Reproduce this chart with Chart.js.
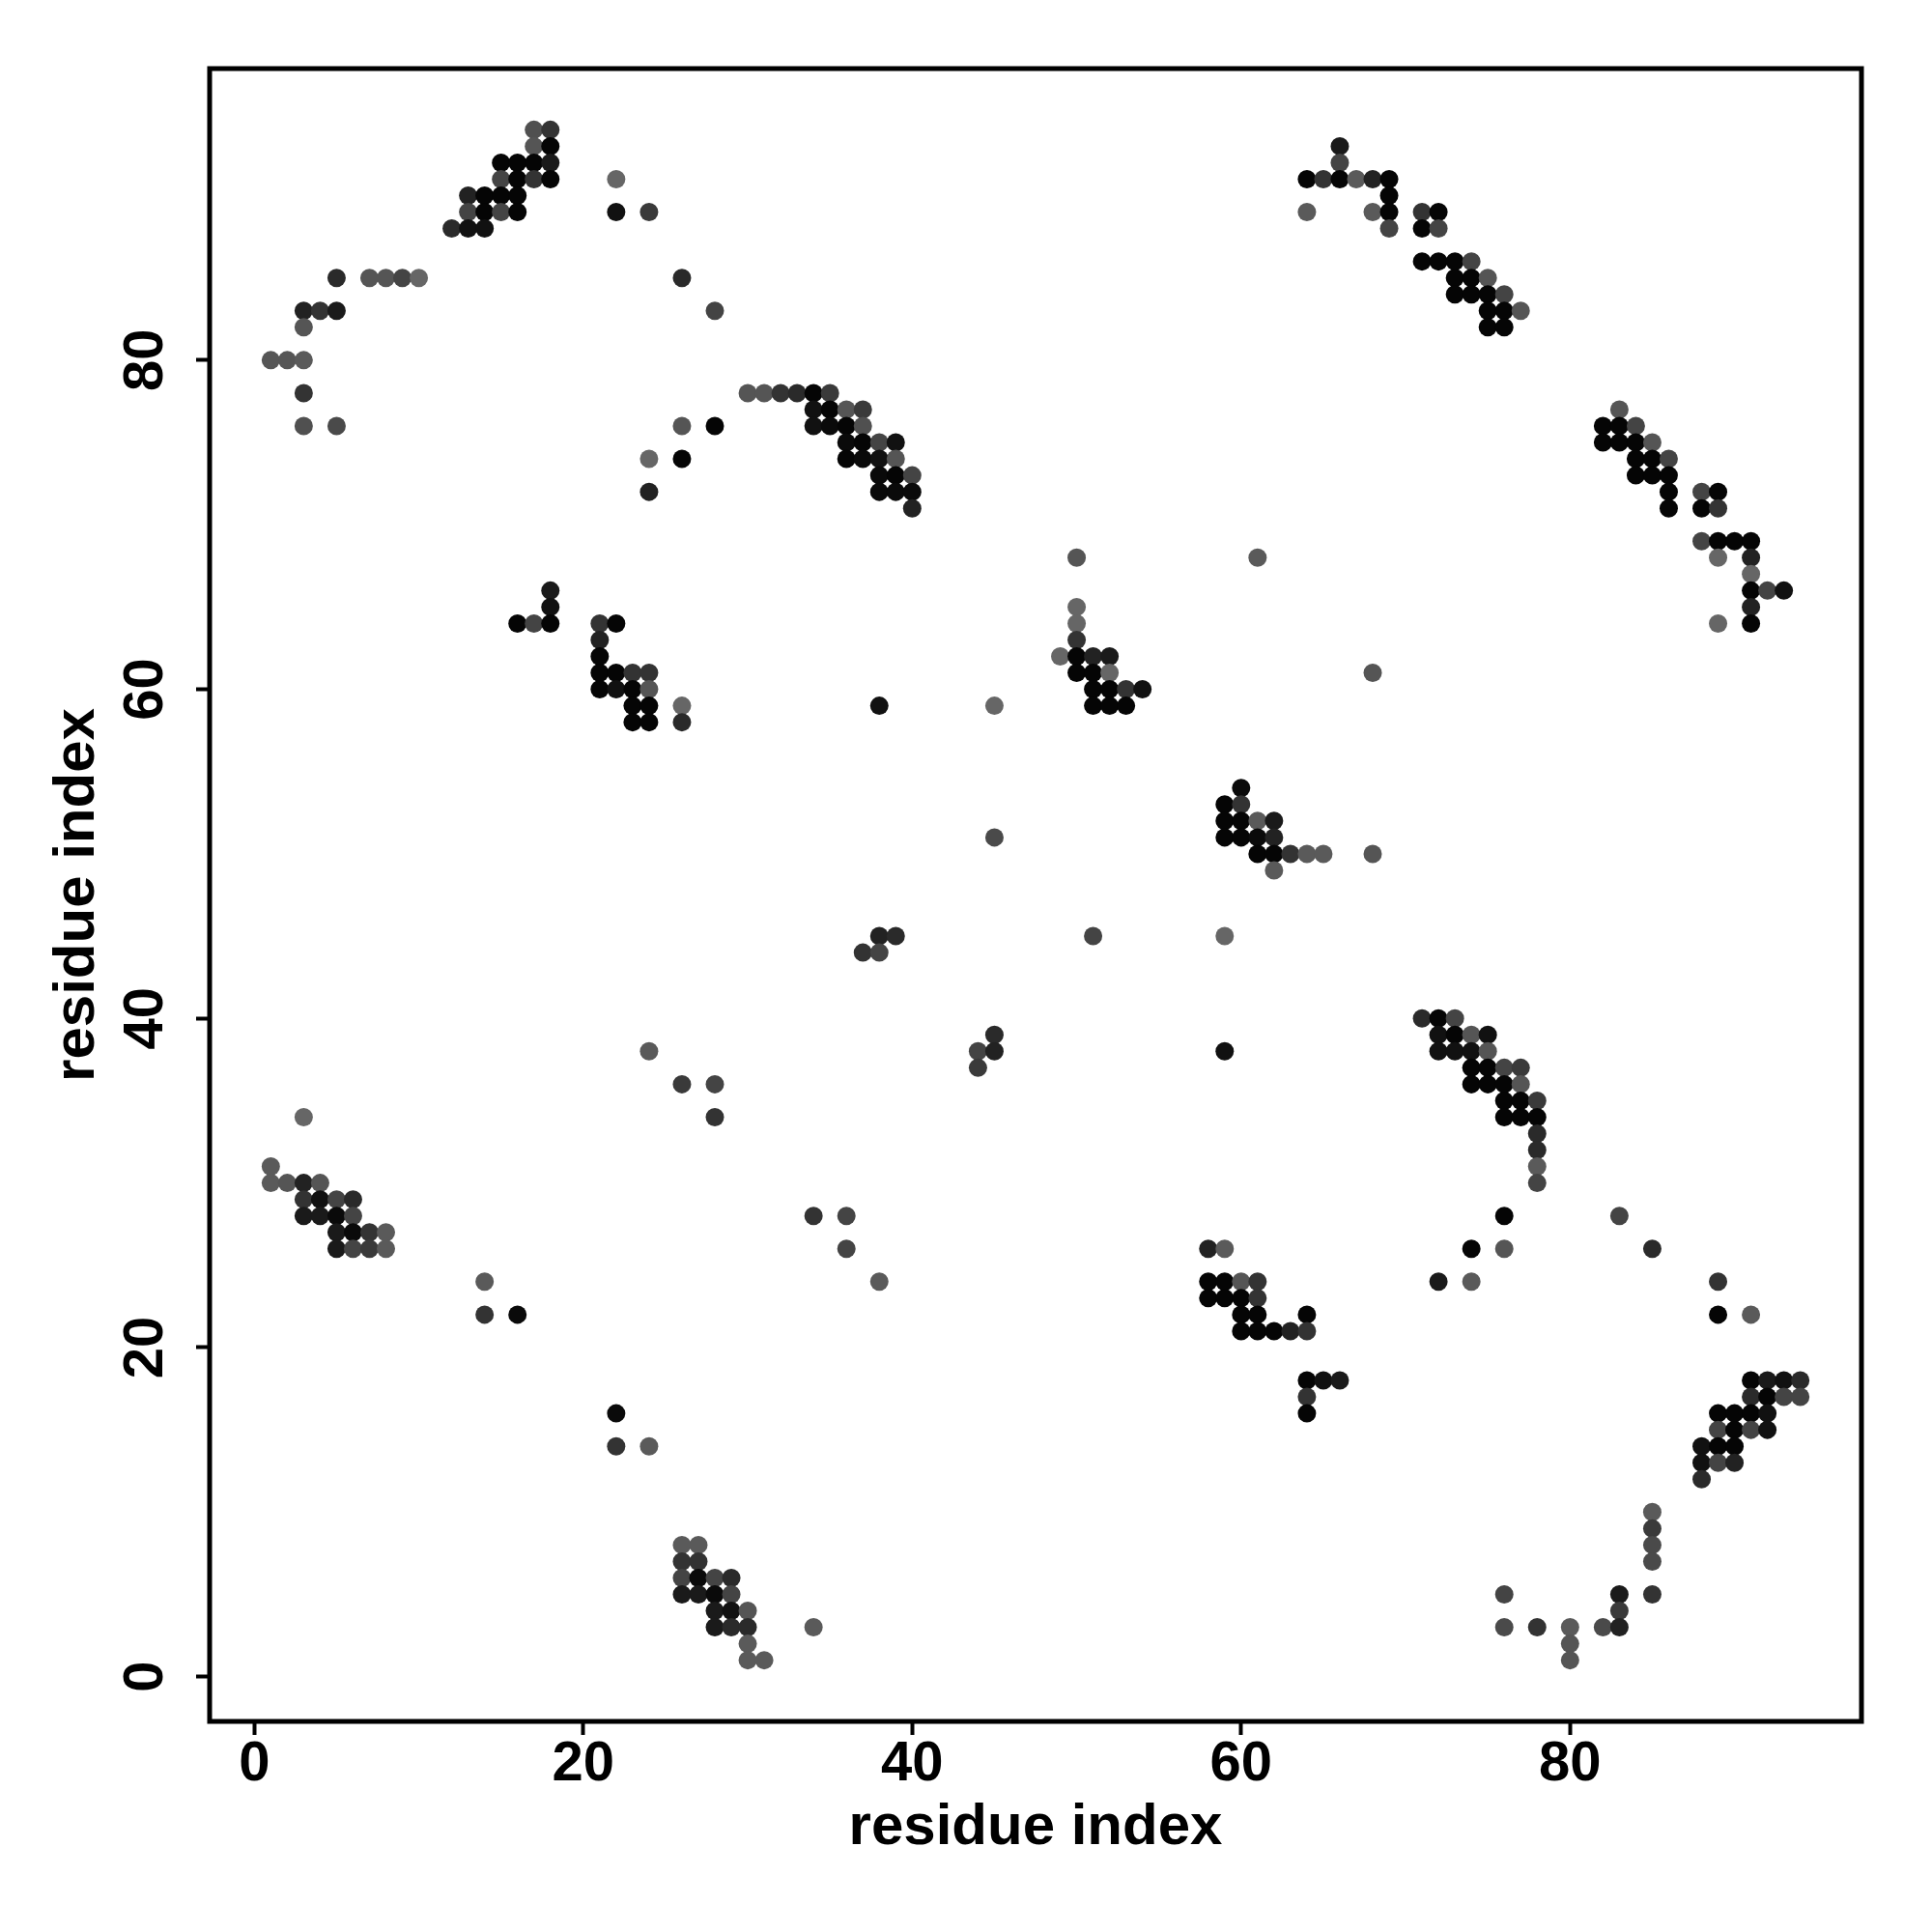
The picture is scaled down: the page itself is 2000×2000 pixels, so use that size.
<!DOCTYPE html>
<html>
<head>
<meta charset="utf-8">
<script src="https://cdn.jsdelivr.net/npm/chart.js@4.4.1/dist/chart.umd.min.js"></script>
<style>
html,body{margin:0;padding:0;background:#ffffff;}
#wrap{width:2000px;height:2000px;}
</style>
</head>
<body>
<div id="wrap"><canvas id="c" width="2000" height="2000"></canvas></div>
<script>
// residue index i (x) for each contact
const residueI = [
  17,18, 17,18, 15,16,17,18, 15,16,17,18, 13,14,15,16, 13,14,15,16, 12,13,14, 22, 22,24, 5,7,8,9,10, 26, 3,4,5, 28, 3, 1,2,3, 3, 3,5, 26,28, 24,26, 24,
  30,31,32,33,34,35, 34,35,36,37, 34,35,36,37, 36,37,38,39, 36,37,38,39, 38,39,40, 38,39,40, 40,
  66, 66, 64,65,66,67,68,69, 69, 64,68,69,71,72, 69,71,72, 71,72,73,74, 73,74,75, 73,74,75,76, 75,76,77, 75,76,
  83, 82,83,84, 82,83,84,85, 84,85,86, 84,85,86, 86,88,89, 86,88,89, 88,89,90,91, 89,91, 91, 91,92,93, 91, 89,91,
  50,61, 50, 50, 50, 49,50,51,52, 50,51,52,68, 51,52,53,54, 38,45,51,52,53, 60, 59,60, 59,60,61,62, 45,59,60,61,62, 61,62,63,64,65,68, 62,
  18, 18, 16,17,18,21,22, 21, 21, 21,22,23,24, 21,22,23,24, 23,24,26, 23,24,26,
  38,39,51,59, 37,38, 45, 24,44,45,59, 44, 26,28, 3,28, 34,36, 36, 38,
  71,72,73, 72,73,74,75, 72,73,74,75, 74,75,76,77, 74,75,76,77, 76,77,78, 76,77,78, 78, 78, 78, 78, 76,83, 74,76,85, 72,74,89, 89,91,
  1, 1,2,3,4, 3,4,5,6, 3,4,5,6, 5,6,7,8, 5,6,7,8, 14, 14,16, 22, 22,24, 26,27, 26,27, 26,27,28,29, 26,27,28,29, 28,29,30, 28,29,30,34, 30, 30,31,
  58,59, 58,59,60,61, 58,59,60,61, 60,61,64, 60,61,62,63,64, 64,65,66, 64, 64,
  91,92,93,94, 91,92,93,94, 89,90,91,92, 89,90,91,92, 88,89,90, 88,89,90, 88, 85, 85, 85, 85, 76,83,85, 83, 76,78,80,82,83, 80, 80
];
// residue index j (y) for each contact
const residueJ = [
  94,94, 93,93, 92,92,92,92, 91,91,91,91, 90,90,90,90, 89,89,89,89, 88,88,88, 91, 89,89, 85,85,85,85,85, 85, 83,83,83, 83, 82, 80,80,80, 78, 76,76, 76,76, 74,74, 72,
  78,78,78,78,78,78, 77,77,77,77, 76,76,76,76, 75,75,75,75, 74,74,74,74, 73,73,73, 72,72,72, 71,
  93, 92, 91,91,91,91,91,91, 90, 89,89,89,89,89, 88,88,88, 86,86,86,86, 85,85,85, 84,84,84,84, 83,83,83, 82,82,
  77, 76,76,76, 75,75,75,75, 74,74,74, 73,73,73, 72,72,72, 71,71,71, 69,69,69,69, 68,68, 67, 66,66,66, 65, 64,64,
  68,68, 65, 64, 63, 62,62,62,62, 61,61,61,61, 60,60,60,60, 59,59,59,59,59, 54, 53,53, 52,52,52,52, 51,51,51,51,51, 50,50,50,50,50,50, 49,
  66, 65, 64,64,64,64,64, 63, 62, 61,61,61,61, 60,60,60,60, 59,59,59, 58,58,58,
  45,45,45,45, 44,44, 39, 38,38,38,38, 37, 36,36, 34,34, 28,28, 26, 24,
  40,40,40, 39,39,39,39, 38,38,38,38, 37,37,37,37, 36,36,36,36, 35,35,35, 34,34,34, 33, 32, 31, 30, 28,28, 26,26,26, 24,24,24, 22,22,
  31, 30,30,30,30, 29,29,29,29, 28,28,28,28, 27,27,27,27, 26,26,26,26, 24, 22,22, 16, 14,14, 8,8, 7,7, 6,6,6,6, 5,5,5,5, 4,4,4, 3,3,3,3, 2, 1,1,
  26,26, 24,24,24,24, 23,23,23,23, 22,22,22, 21,21,21,21,21, 18,18,18, 17, 16,
  18,18,18,18, 17,17,17,17, 16,16,16,16, 15,15,15,15, 14,14,14, 13,13,13, 12, 10, 9, 8, 7, 5,5,5, 4, 3,3,3,3,3, 2, 1
];
// grey level (0 = black) of each contact point
const contactShade = [
  80,51, 85,5, 5,5,5,26, 68,5,51,5, 34,5,5,5, 68,5,68,5, 42,17,17, 102, 17,58, 42,85,85,68,102, 42, 34,51,26, 68, 85, 85,85,90, 51, 80,74, 85,5, 102,5, 34,
  85,85,51,42,5,58, 17,5,85,58, 17,10,5,80, 10,5,68,17, 5,10,17,85, 10,5,68, 10,10,10, 34,
  26, 68, 5,51,5,90,34,5, 5, 90,90,5,51,5, 68,5,68, 5,5,5,68, 5,5,85, 5,5,5,68, 5,5,85, 5,5,
  85, 5,5,68, 5,5,5,85, 5,5,68, 5,5,5, 5,68,5, 5,5,51, 68,5,5,5, 102,34, 102, 5,68,17, 34, 102,5,
  85,90, 102, 102, 51, 102,5,34,26, 5,5,102,85, 5,5,51,17, 17,102,5,5,5, 10, 5,51, 5,5,90,26, 74,5,5,10,34, 5,5,51,90,90,85, 90,
  26, 17, 5,68,5,51,5, 34, 5, 5,5,51,51, 5,17,5,85, 5,5,102, 5,5,42,
  34,42,68,102, 51,68, 42, 90,68,34,17, 58, 58,68, 102,51, 51,68, 68, 90,
  42,5,68, 17,5,85,17, 17,17,17,85, 5,5,68,58, 5,5,5,85, 5,5,58, 5,5,5, 42, 42, 90, 68, 5,68, 5,85,42, 26,90,51, 5,90,
  90, 90,85,34,85, 51,17,68,42, 26,26,10,68, 26,10,51,90, 26,68,58,90, 90, 51,10, 10, 51,90, 90,90, 51,51, 68,10,68,42, 26,26,10,68, 26,17,85, 26,42,42,90, 90, 90,90,
  34,90, 5,5,85,51, 5,5,5,51, 5,5,5, 5,5,5,34,51, 5,17,26, 51, 5,
  5,26,17,42, 42,5,68,68, 5,5,5,17, 68,5,68,17, 17,5,5, 17,68,34, 42, 90, 58, 74, 74, 68,26,51, 58, 74,51,90,74,34, 85, 85
];
const tickValues = [0, 20, 40, 60, 80];
const xAxisTitle = 'residue index';
const yAxisTitle = 'residue index';

if (residueI.length !== residueJ.length || residueI.length !== contactShade.length) {
  console.error('length mismatch', residueI.length, residueJ.length, contactShade.length);
}

const points = residueI.map((x, k) => ({ x: x, y: residueJ[k] }));
const colours = contactShade.map(g => 'rgb(' + g + ',' + g + ',' + g + ')');

const FONT = '"Liberation Sans", Arial, Helvetica, sans-serif';

const boxPlugin = {
  id: 'box',
  afterDatasetsDraw(chart) {
    const a = chart.chartArea, ctx = chart.ctx;
    ctx.save();
    ctx.strokeStyle = '#000';
    ctx.lineWidth = 5;
    ctx.strokeRect(a.left, a.top, a.right - a.left, a.bottom - a.top);
    ctx.restore();
  }
};

function fixTicks(axis) {
  axis.ticks = tickValues.map(v => ({ value: v }));
}

new Chart(document.getElementById('c'), {
  type: 'scatter',
  data: {
    datasets: [{
      data: points,
      backgroundColor: colours,
      borderWidth: 0,
      pointRadius: 9.5,
      pointHoverRadius: 9.5
    }]
  },
  options: {
    responsive: false,
    animation: false,
    devicePixelRatio: 1,
    layout: { padding: { left: 50, right: 73, top: 71, bottom: 78 } },
    plugins: { legend: { display: false }, tooltip: { enabled: false } },
    scales: {
      x: {
        type: 'linear',
        min: -2.72, max: 97.72,
        afterBuildTicks: fixTicks,
        afterFit: s => { s.height = 140; },
        border: { display: false },
        grid: { display: true, drawOnChartArea: false, drawTicks: true, tickLength: 14, tickWidth: 4, tickColor: '#000' },
        ticks: { color: '#000', padding: 2, maxRotation: 0, autoSkip: false,
                 font: { family: FONT, size: 58, weight: 'bold', lineHeight: 1 } },
        title: { display: true, text: xAxisTitle, color: '#000', padding: 0,
                 font: { family: FONT, size: 60, weight: 'bold', lineHeight: 1 } }
      },
      y: {
        type: 'linear',
        min: -2.72, max: 97.72,
        afterBuildTicks: fixTicks,
        afterFit: s => { s.width = 167; },
        border: { display: false },
        grid: { display: true, drawOnChartArea: false, drawTicks: true, tickLength: 14, tickWidth: 4, tickColor: '#000' },
        ticks: { color: '#000', padding: 19, minRotation: 90, maxRotation: 90, crossAlign: 'center', autoSkip: false,
                 font: { family: FONT, size: 58, weight: 'bold', lineHeight: 1 } },
        title: { display: true, text: yAxisTitle, color: '#000', padding: 0,
                 font: { family: FONT, size: 60, weight: 'bold', lineHeight: 1 } }
      }
    }
  },
  plugins: [boxPlugin]
});
</script>
</body>
</html>
